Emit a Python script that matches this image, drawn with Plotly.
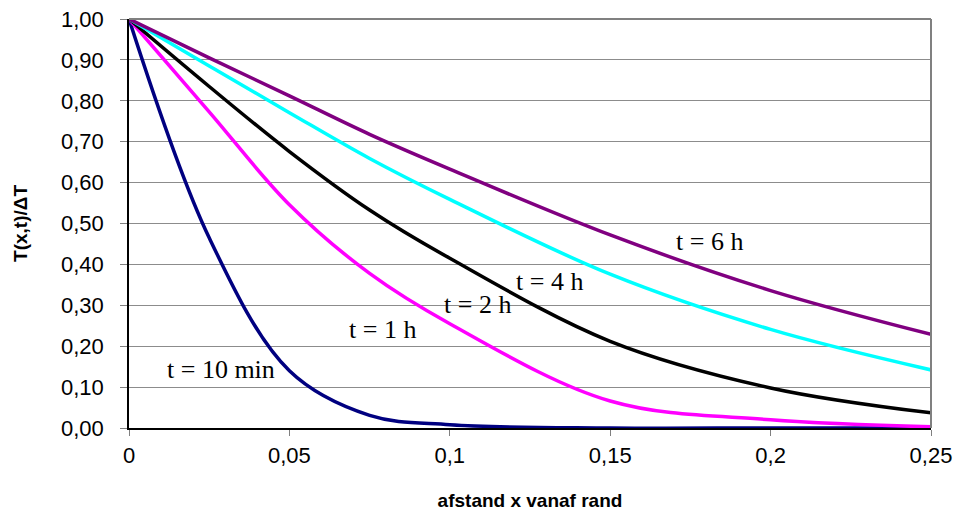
import plotly.graph_objects as go

# distance from edge (m)
x_vals = [0, 0.025, 0.05, 0.075, 0.1, 0.15, 0.2, 0.25]

t10min = [1.00, 0.465, 0.140, 0.031, 0.008, 0.000, 0.000, 0.000]
t1h    = [1.00, 0.773, 0.546, 0.378, 0.255, 0.066, 0.020, 0.003]
t2h    = [1.00, 0.835, 0.676, 0.533, 0.415, 0.212, 0.098, 0.037]
t4h    = [1.00, 0.885, 0.771, 0.659, 0.559, 0.376, 0.241, 0.142]
t6h    = [1.00, 0.905, 0.812, 0.718, 0.633, 0.472, 0.336, 0.229]

series_names = ["t = 10 min", "t = 1 h", "t = 2 h", "t = 4 h", "t = 6 h"]
series_vals = [t10min, t1h, t2h, t4h, t6h]
series_colors = ["#000080", "#FF00FF", "#000000", "#00FFFF", "#800080"]

# label anchor positions (data coords)
label_x = [0.0287, 0.0789, 0.1085, 0.131, 0.1811]
label_y = [0.144, 0.240, 0.303, 0.357, 0.457]

x_tickvals = [0, 0.05, 0.1, 0.15, 0.2, 0.25]
x_ticktext = ["0", "0,05", "0,1", "0,15", "0,2", "0,25"]
y_tickvals = [i / 10 for i in range(11)]
y_ticktext = ["0,00", "0,10", "0,20", "0,30", "0,40", "0,50", "0,60", "0,70", "0,80", "0,90", "1,00"]

fig = go.Figure()
for name, vals, col in zip(series_names, series_vals, series_colors):
    fig.add_trace(go.Scatter(
        x=x_vals, y=vals, mode="lines", name=name,
        line=dict(color=col, width=3.5, shape="spline", smoothing=1.0),
        showlegend=False,
    ))

for name, lx, ly in zip(series_names, label_x, label_y):
    fig.add_annotation(x=lx, y=ly, text=name, showarrow=False,
                       font=dict(family="Liberation Serif, Times New Roman, serif", size=26, color="black"),
                       xanchor="center", yanchor="middle")

axis_font = dict(family="Liberation Sans, Arial, sans-serif", size=22, color="black")
title_font = dict(family="Liberation Sans, Arial, sans-serif", size=19, color="black")

fig.update_layout(
    width=955, height=517,
    margin=dict(l=129, r=24, t=19, b=89),
    paper_bgcolor="white", plot_bgcolor="white",
    xaxis=dict(
        range=[0, 0.25], tickvals=x_tickvals, ticktext=x_ticktext,
        showgrid=False, zeroline=False, automargin=False,
        showline=True, linecolor="black", linewidth=1.5,
        ticks="outside", ticklen=6, tickcolor="#808080", tickwidth=1,
        tickfont=axis_font, ticklabelstandoff=1,
        title=dict(text="<b>afstand x vanaf rand</b>", font=title_font, standoff=27),
    ),
    yaxis=dict(
        range=[0, 1.0], tickvals=y_tickvals, ticktext=y_ticktext,
        showgrid=True, gridcolor="#8c8c8c", gridwidth=1, zeroline=False, automargin=False,
        showline=True, linecolor="black", linewidth=1.5,
        ticks="outside", ticklen=7, tickcolor="#808080", tickwidth=1,
        tickfont=axis_font, ticklabelstandoff=12,
        title=dict(text="<b>T(x,t)/ΔT</b>", font=title_font, standoff=28),
    ),
    shapes=[
        dict(type="line", xref="paper", yref="paper", x0=1, x1=1, y0=0, y1=1,
             line=dict(color="#808080", width=2)),
        dict(type="line", xref="paper", yref="paper", x0=0, x1=1, y0=1, y1=1,
             line=dict(color="#808080", width=2)),
    ],
)

fig.write_html("out.html")
